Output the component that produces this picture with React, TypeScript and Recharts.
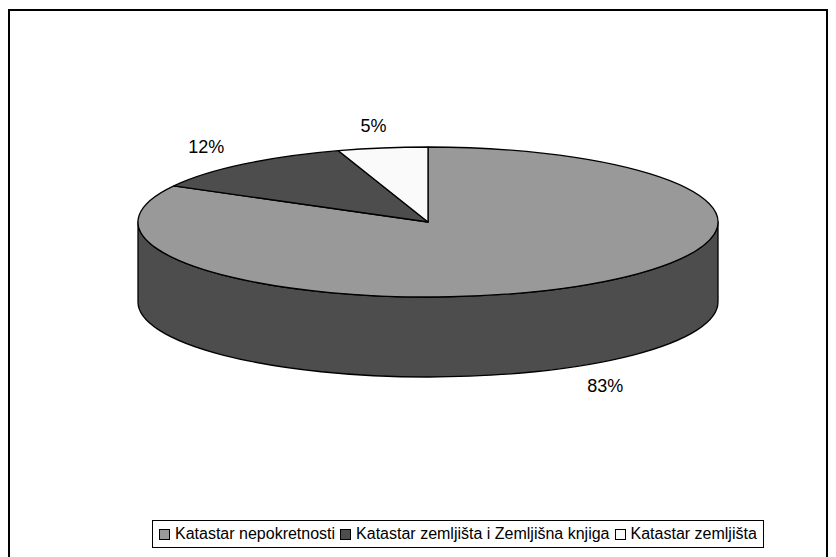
import { PieChart, Pie, Cell, Legend } from 'recharts'

const categories = ['Katastar nepokretnosti', 'Katastar zemljišta i Zemljišna knjiga', 'Katastar zemljišta']
const shares = [83, 12, 5]
const fills = ['#999999', '#4d4d4d', '#fafafa']
const sideFill = '#4d4d4d'

const data = categories.map((name, i) => ({ name, value: shares[i] }))

// flattened 3D look
const RATIO = 0.2586
const DEPTH = 80
const RAD = Math.PI / 180
const FONT = 'Arial, "Liberation Sans", sans-serif'

function pt(cx: number, cy: number, a: number, ang: number, dy = 0) {
  const b = a * RATIO
  return [cx + a * Math.cos(ang * RAD), cy - b * Math.sin(ang * RAD) + dy]
}

function EllipseSlice(props: any) {
  const { cx, cy, outerRadius: a, startAngle, endAngle, fill } = props
  const b = a * RATIO
  const hiA = Math.max(startAngle, endAngle)
  const loA = Math.min(startAngle, endAngle)
  const [sx, sy] = pt(cx, cy, a, hiA)
  const [ex, ey] = pt(cx, cy, a, loA)
  const large = hiA - loA > 180 ? 1 : 0
  const top = `M${cx},${cy} L${sx},${sy} A${a},${b} 0 ${large} 1 ${ex},${ey} Z`

  const sides: string[] = []
  for (const k of [0, -360]) {
    const hi = Math.min(hiA, k)
    const lo = Math.max(loA, k - 180)
    if (lo < hi) {
      const [x1, y1] = pt(cx, cy, a, hi)
      const [x2, y2] = pt(cx, cy, a, lo)
      sides.push(
        `M${x1},${y1} A${a},${b} 0 0 1 ${x2},${y2} L${x2},${y2 + DEPTH} A${a},${b} 0 0 0 ${x1},${y1 + DEPTH} Z`,
      )
    }
  }

  return (
    <g>
      {sides.map((d, i) => (
        <path key={i} d={d} fill={sideFill} stroke="#000" strokeWidth={1.3} strokeLinejoin="round" />
      ))}
      <path d={top} fill={fill} stroke="#000" strokeWidth={1.3} strokeLinejoin="round" />
    </g>
  )
}

function renderLabel(props: any) {
  const { cx, cy, outerRadius: a, midAngle, percent } = props
  const s = Math.sin(midAngle * RAD)
  const x = cx + a * 1.2 * Math.cos(midAngle * RAD)
  const y = cy - a * RATIO * 1.3 * s + (s < 0 ? DEPTH : 0)
  return (
    <text x={x} y={y} textAnchor="middle" dominantBaseline="central" fill="#000" fontSize={18} fontFamily={FONT}>
      {`${Math.round(percent * 100)}%`}
    </text>
  )
}

function LegendBox() {
  return (
    <div
      style={{
        display: 'inline-flex',
        alignItems: 'center',
        border: '1px solid #000',
        padding: '4px 6px',
        fontFamily: FONT,
        fontSize: 16,
        color: '#000',
        background: '#fff',
      }}
    >
      {categories.map((name, i) => (
        <span key={name} style={{ display: 'inline-flex', alignItems: 'center', marginRight: i < categories.length - 1 ? 5 : 0 }}>
          <span
            style={{
              width: 9,
              height: 9,
              border: '1px solid #000',
              background: fills[i],
              marginRight: 5,
              display: 'inline-block',
            }}
          />
          {name}
        </span>
      ))}
    </div>
  )
}

export default function App() {
  return (
    <div style={{ position: 'relative', width: 836, height: 557, background: '#fff' }}>
      <style>{`body{margin:0}`}</style>
      <div
        style={{
          position: 'absolute',
          left: 8,
          top: 9,
          width: 820,
          height: 548,
          borderLeft: '2px solid #000',
          borderTop: '2px solid #000',
          borderRight: '2px solid #000',
          boxSizing: 'border-box',
        }}
      />
      <div style={{ position: 'absolute', left: 0, top: 0 }}>
        <PieChart width={836} height={557} margin={{ top: 0, right: 0, bottom: 0, left: 0 }}>
          <Pie
            data={data}
            dataKey="value"
            nameKey="name"
            cx={428}
            cy={222}
            outerRadius={290}
            startAngle={90}
            endAngle={-270}
            shape={EllipseSlice}
            inactiveShape={EllipseSlice}
            activeShape={EllipseSlice}
            label={renderLabel}
            labelLine={false}
            isAnimationActive={false}
          >
            {data.map((d, i) => (
              <Cell key={d.name} fill={fills[i]} />
            ))}
          </Pie>
          <Legend
            content={LegendBox}
            verticalAlign="bottom"
            wrapperStyle={{ left: 152, top: 520, width: 'auto', bottom: 'auto' }}
          />
        </PieChart>
      </div>
    </div>
  )
}
